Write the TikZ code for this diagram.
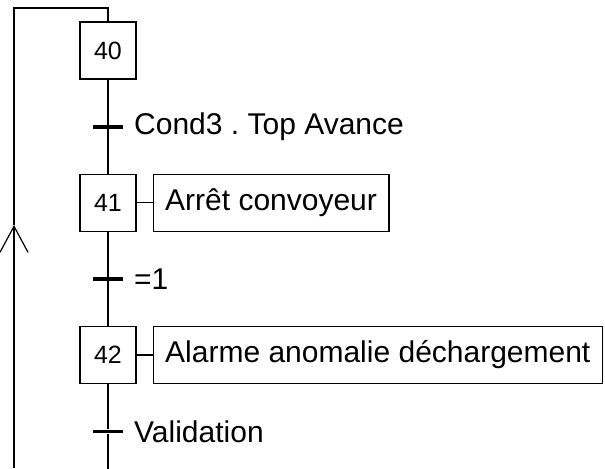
\documentclass[tikz,border=0pt]{standalone}
\usepackage{fontspec}
\setmainfont{Liberation Sans}
\usetikzlibrary{positioning,arrows.meta,calc}
\frenchspacing

\begin{document}
\begin{tikzpicture}[line width=0.6pt, font=\fontsize{15}{18}\selectfont,
  etape/.style={draw,minimum width=28pt,minimum height=28.5pt,inner sep=0pt,font=\fontsize{12.5}{15}\selectfont},
  action/.style={draw,minimum height=28.5pt,inner xsep=6pt,inner ysep=0pt},
  recept/.style={fill,minimum width=15pt,minimum height=1.7pt,inner sep=0pt},
  cond/.style={inner sep=0pt}]
  \useasboundingbox (0,0) rectangle (302.5pt,-234pt);
  % etapes
  \node[etape](e40) at (54pt,-25.25pt){40};
  \node[etape,below=47pt of e40](e41){41};
  \node[etape,below=47pt of e41](e42){42};
  % actions
  \node[action,right=8pt of e41](a41){Arrêt convoyeur};
  \node[action,right=8pt of e42](a42){Alarme anomalie déchargement};
  \draw (e41)--(a41); \draw (e42)--(a42);
  % receptivites
  \node[recept,below=22.5pt of e40](t1){};
  \node[recept,below=22.5pt of e41](t2){};
  \node[recept,below=22.5pt of e42](t3){};
  \node[cond,right=5pt of t1](c1){Cond3 .\ Top Avance};
  \node[cond,right=5pt of t2](c2){=1};
  \node[cond,right=5pt of t3](c3){Validation};
  \coordinate(fin) at ($(e42.south)+(0,-43.5pt)$);
  \draw (e40)--(t1)--(e41)--(t2)--(e42)--(t3)--(fin);
  % retour vers 40
  \coordinate(retour) at (7pt,-234pt);
  \coordinate(fleche) at (7pt,-112.5pt);
  \coordinate(haut) at (7pt,-4pt);
  \draw[-{Straight Barb[length=13pt,width=14pt]}](retour)--(fleche);
  \draw (fleche)--(haut)-|(e40);
\end{tikzpicture}
\end{document}
